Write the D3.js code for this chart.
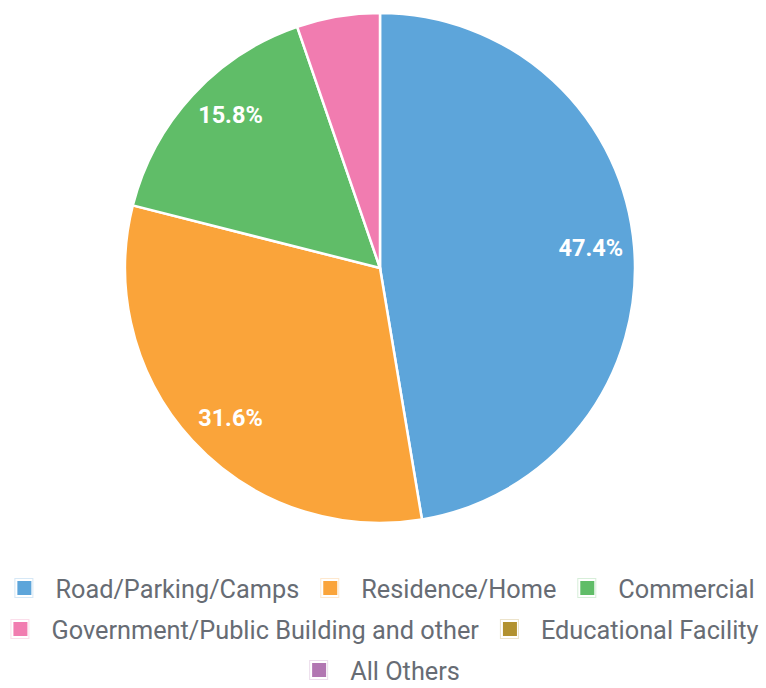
<!DOCTYPE html>
<html><head><meta charset="utf-8">
<script src="https://cdn.jsdelivr.net/npm/d3@7"></script>
<style>body{margin:0;background:#fff;}svg{display:block;font-family:Roboto,sans-serif;}</style>
</head><body>
<svg id="c" width="766" height="688"></svg>
<script>
const categories = ["Road/Parking/Camps","Residence/Home","Commercial","Government/Public Building and other","Educational Facility","All Others"];
const values = [9,6,3,1,0,0];
const colors = ["#5DA5DA","#FAA43A","#60BD68","#F17CB0","#B2912F","#B276B2"];

const svg = d3.select("#c");
const W = 766, cx = 380, cy = 268, R = 255;
const total = d3.sum(values);
const pie = d3.pie().sort(null).value(d => d.v);
const data = pie(categories.map((c,i)=>({c, v: values[i], col: colors[i]})));
const arc = d3.arc().innerRadius(0).outerRadius(R);
const g = svg.append("g").attr("transform",`translate(${cx},${cy})`);
g.selectAll("path").data(data.filter(d=>d.data.v>0)).join("path")
  .attr("d", arc).attr("fill", d=>d.data.col).attr("stroke","#fff").attr("stroke-width",2.5);
const lrx = 208, lry = 224;
g.selectAll("text").data(data.filter(d=>d.data.v/total > 0.1)).join("text")
  .attr("transform", d=>{ const a=(d.startAngle+d.endAngle)/2; return `translate(${lrx*Math.sin(a)+3.5},${-lry*Math.cos(a)-2})`; })
  .attr("text-anchor","middle").attr("dy","0.35em")
  .attr("fill","#fff").attr("font-weight","bold").attr("font-size",23.5)
  .text(d => (d.data.v/total*100).toFixed(1)+"%");

// legend
const fs = 25.3, sw = 14, textOff = 38, gapItem = 24, rowH = 41, firstY = 589, centerX = 386;
const lg = svg.append("g");
const items = categories.map((c,i)=>{
  const t = lg.append("text").attr("font-size",fs).attr("fill","#676c74").text(c);
  const w = t.node().getComputedTextLength();
  return {c, i, t, w: textOff + w};
});
const rows = []; let cur = [], curW = 0;
items.forEach(it=>{
  const add = (cur.length? gapItem:0) + it.w;
  if (cur.length && curW + add > W - 2) { rows.push({items:cur,w:curW}); cur=[it]; curW=it.w; }
  else { cur.push(it); curW += add; }
});
if (cur.length) rows.push({items:cur,w:curW});
rows.forEach((r,ri)=>{
  let x = centerX - r.w/2;
  const y = firstY + ri*rowH;
  r.items.forEach(it=>{
    lg.append("rect").attr("x",x-2.5).attr("y",y-sw/2-3.5).attr("width",sw+4).attr("height",sw+5)
      .attr("fill","none").attr("stroke",colors[it.i]).attr("stroke-opacity",0.25).attr("stroke-width",1);
    lg.append("rect").attr("x",x).attr("y",y-sw/2-1).attr("width",sw).attr("height",sw).attr("fill",colors[it.i]);
    it.t.attr("x", x + textOff).attr("y", y).attr("dy","0.35em");
    x += it.w + gapItem;
  });
});
</script>
</body></html>
